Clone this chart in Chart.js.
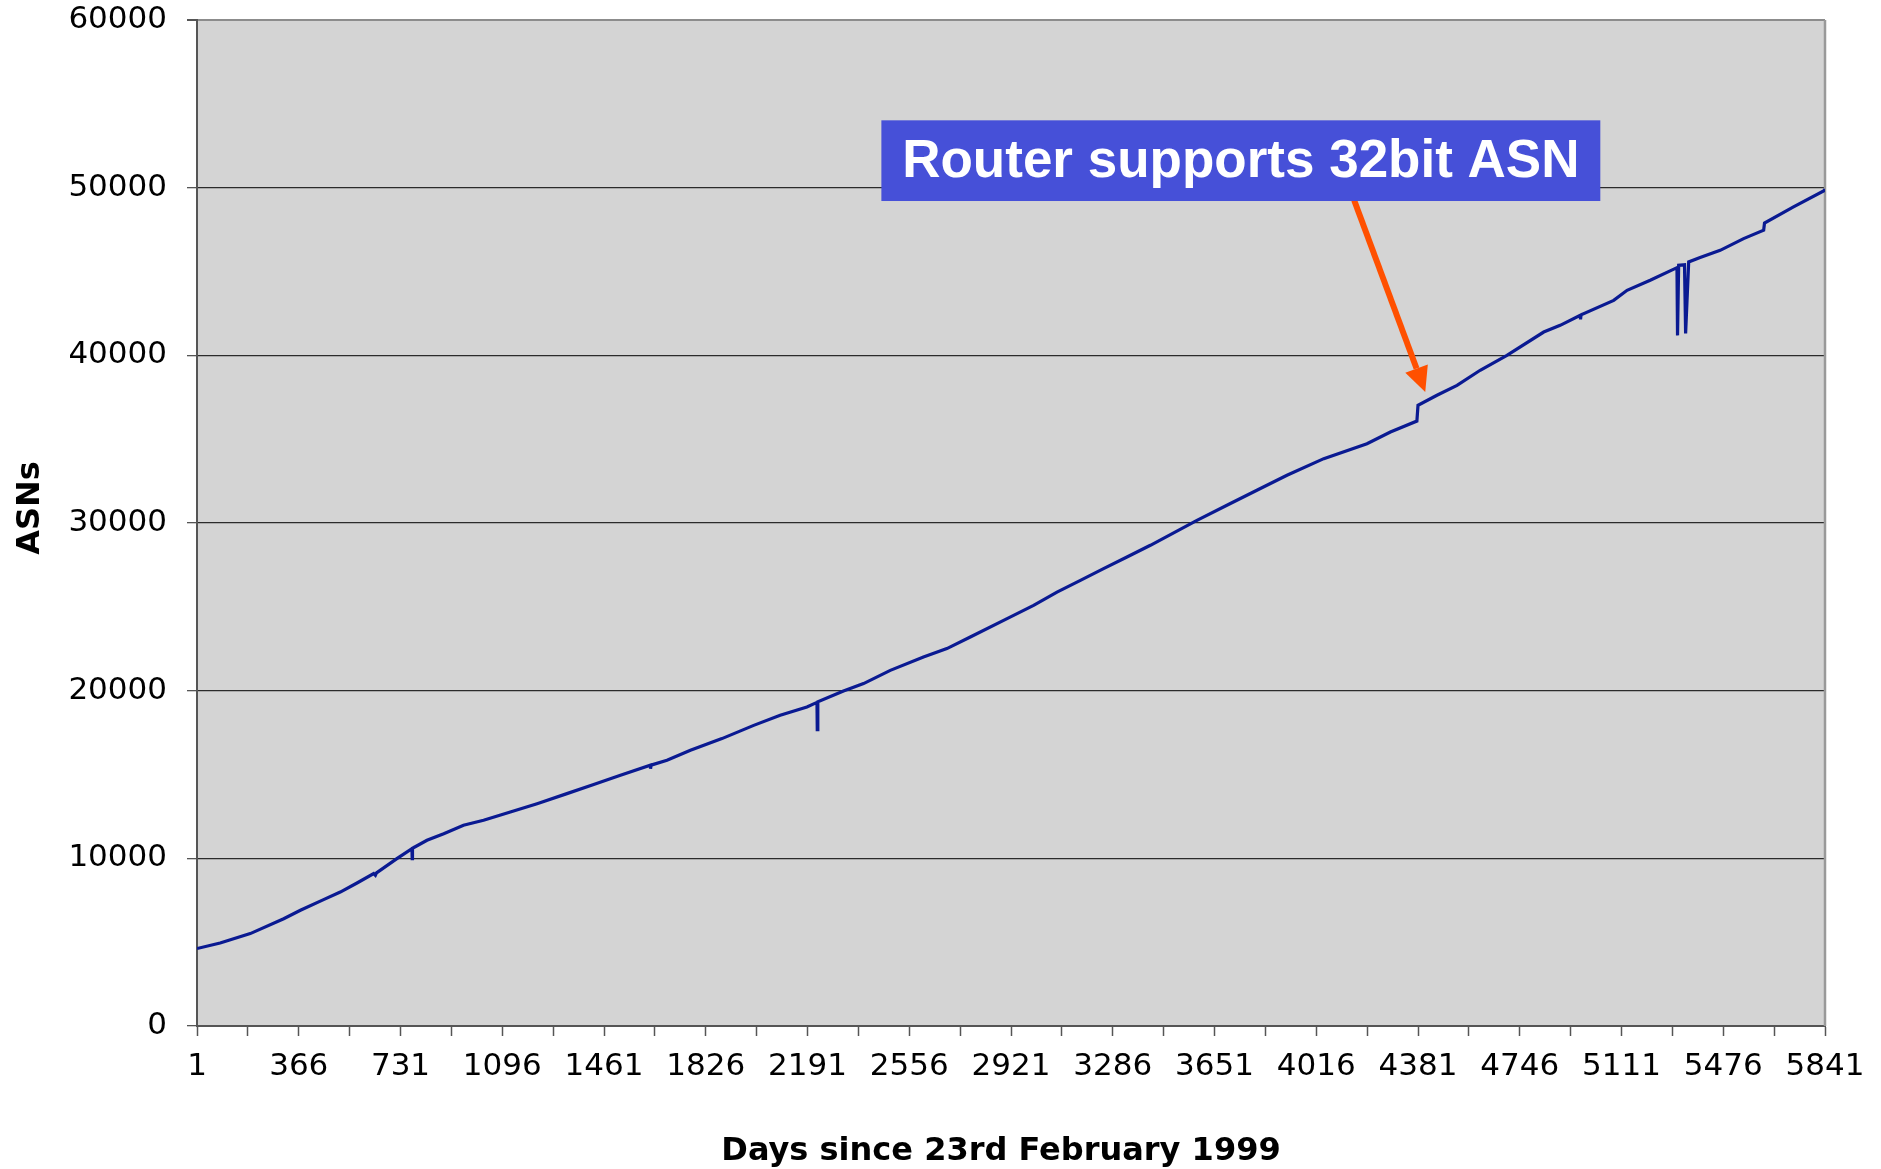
<!DOCTYPE html>
<html>
<head>
<meta charset="utf-8">
<title>ASNs</title>
<script src="https://cdn.jsdelivr.net/npm/chart.js@4/dist/chart.umd.min.js"></script>
<style>
  html, body { margin: 0; padding: 0; background: #ffffff; }
  #wrap { width: 1881px; height: 1169px; }
</style>
</head>
<body>
<div id="wrap"><canvas id="asn-chart"></canvas></div>
<script>
// ASN count (day number since 23rd Feb 1999)
const days = [
  1, 84, 192, 312, 372, 455, 515, 575, 635, 641, 645, 718, 772, 773, 774,
  826, 886, 957, 1029, 1125, 1221, 1328, 1424, 1520, 1627, 1628, 1630, 1687,
  1771, 1884, 1998, 2093, 2189, 2225, 2226, 2228, 2320, 2392, 2488, 2607,
  2691, 2775, 2907, 3002, 3086, 3170, 3253, 3337, 3421, 3588, 3708, 3803,
  3911, 4043, 4198, 4282, 4377, 4381, 4449, 4521, 4604, 4700, 4832, 4891,
  4963, 4964, 4966, 5083, 5131, 5214, 5310, 5312, 5316, 5337, 5341, 5352,
  5393, 5465, 5549, 5621, 5624, 5728, 5836, 5841
];
const asns = [
  4620, 4950, 5510, 6400, 6900, 7540, 7990, 8530, 9090, 8990, 9130, 9980, 10580, 9980, 10600,
  11075, 11470, 11970, 12270, 12760, 13260, 13860, 14410, 14950, 15550, 15350, 15560, 15850,
  16440, 17140, 17930, 18530, 19030, 19300, 17680, 19330, 19980, 20420, 21210, 22010,
  22510, 23200, 24300, 25090, 25880, 26580, 27280, 27970, 28670, 30160, 31160, 31950,
  32850, 33840, 34730, 35430, 36080, 37020, 37620, 38210, 39110, 40000, 41390, 41790,
  42390, 42150, 42420, 43280, 43880, 44480, 45230, 41190, 45370, 45400, 41300, 45570,
  45830, 46260, 46960, 47460, 47890, 48850, 49800, 49900
];

const xLabelDays = [1, 366, 731, 1096, 1461, 1826, 2191, 2556, 2921, 3286, 3651, 4016, 4381, 4746, 5111, 5476, 5841];
const yTicks = [0, 10000, 20000, 30000, 40000, 50000, 60000];

// callout, placed in data units
const note = {
  text: 'Router supports 32bit ASN',
  left: 2456, right: 5035, top: 54017, bottom: 49204,
  fromDay: 4152, fromAsn: 49245,
  toDay: 4407, toAsn: 37812,
};

const plotBg = {
  id: 'plotBg',
  beforeDraw(c) {
    const { ctx, chartArea: a } = c;
    ctx.save();
    ctx.fillStyle = '#d4d4d4';
    ctx.fillRect(a.left, a.top, a.right - a.left, a.bottom - a.top);
    ctx.restore();
  },
  beforeDatasetsDraw(c) {
    const { ctx, chartArea: a } = c;
    ctx.save();
    ctx.strokeStyle = '#999999';
    ctx.lineWidth = 2.5;
    ctx.beginPath();
    ctx.moveTo(a.right, a.top);
    ctx.lineTo(a.right, a.bottom);
    ctx.stroke();
    ctx.restore();
  },
};

const callout = {
  id: 'callout',
  afterDraw(c) {
    const { ctx, chartArea: a } = c;
    const x = c.scales.x, y = c.scales.y;
    ctx.save();

    // axis titles
    ctx.fillStyle = '#000000';
    ctx.font = 'bold 32px "DejaVu Sans"';
    ctx.textAlign = 'center';
    ctx.textBaseline = 'middle';
    ctx.fillText('Days since 23rd February 1999', (a.left + a.right) / 2 - 10, 1152);
    ctx.save();
    ctx.translate(31, (a.top + a.bottom) / 2 - 15);
    ctx.rotate(-Math.PI / 2);
    ctx.fillText('ASNs', 0, 0);
    ctx.restore();

    // arrow
    const x0 = x.getPixelForValue(note.fromDay), y0 = y.getPixelForValue(note.fromAsn);
    const x1 = x.getPixelForValue(note.toDay), y1 = y.getPixelForValue(note.toAsn);
    const ang = Math.atan2(y1 - y0, x1 - x0);
    const headLen = 25, headW = 12;
    const bx = x1 - headLen * Math.cos(ang), by = y1 - headLen * Math.sin(ang);
    ctx.strokeStyle = '#ff5000';
    ctx.fillStyle = '#ff5000';
    ctx.lineWidth = 6;
    ctx.beginPath();
    ctx.moveTo(x0, y0);
    ctx.lineTo(bx, by);
    ctx.stroke();
    ctx.beginPath();
    ctx.moveTo(x1, y1);
    ctx.lineTo(bx + headW * Math.sin(ang), by - headW * Math.cos(ang));
    ctx.lineTo(bx - headW * Math.sin(ang), by + headW * Math.cos(ang));
    ctx.closePath();
    ctx.fill();

    // box + label
    const l = x.getPixelForValue(note.left), r = x.getPixelForValue(note.right);
    const t = y.getPixelForValue(note.top), b = y.getPixelForValue(note.bottom);
    ctx.fillStyle = '#4650d8';
    ctx.fillRect(l, t, r - l, b - t);
    ctx.fillStyle = '#ffffff';
    ctx.font = 'bold 53px "Liberation Sans", Arial, sans-serif';
    ctx.textAlign = 'center';
    ctx.textBaseline = 'middle';
    ctx.fillText(note.text, (l + r) / 2, (t + b) / 2 + 2);
    ctx.restore();
  },
};

const tickFont = { family: '"DejaVu Sans", Verdana, sans-serif', size: 31 };

new Chart(document.getElementById('asn-chart'), {
  type: 'line',
  data: {
    datasets: [{
      label: 'ASNs',
      data: days.map((d, i) => ({ x: d, y: asns[i] })),
      borderColor: '#0a1a92',
      borderWidth: 3.2,
      pointRadius: 0,
      tension: 0,
      fill: false,
    }],
  },
  options: {
    responsive: true,
    maintainAspectRatio: false,
    animation: false,
    layout: { padding: { left: 0, top: 20, right: 56, bottom: 0 } },
    plugins: {
      legend: { display: false },
      tooltip: { enabled: false },
    },
    scales: {
      x: {
        type: 'linear',
        min: 1,
        max: 5841,
        afterBuildTicks(scale) {
          const ticks = [];
          xLabelDays.forEach((d, i) => {
            ticks.push({ value: d });
            if (i < xLabelDays.length - 1) ticks.push({ value: (d + xLabelDays[i + 1]) / 2 });
          });
          scale.ticks = ticks;
        },
        afterFit(scale) { scale.height = 143; },
        ticks: {
          autoSkip: false,
          maxRotation: 0,
          color: '#000000',
          font: tickFont,
          padding: 12,
          callback: (v) => (xLabelDays.includes(v) ? String(v) : ''),
        },
        grid: {
          drawOnChartArea: false,
          tickLength: 10,
          tickColor: '#555555',
          tickWidth: 1.5,
        },
        border: { color: '#555555', width: 2 },
      },
      y: {
        min: 0,
        max: 60000,
        afterBuildTicks(scale) {
          scale.ticks = yTicks.map((v) => ({ value: v }));
        },
        afterFit(scale) {
          scale.width = 197;
          // let the top label overhang the plot instead of pushing it down
          scale.paddingTop = 0;
          scale.paddingBottom = 0;
        },
        ticks: {
          color: '#000000',
          font: tickFont,
          padding: 20,
          callback: (v) => String(v),
        },
        grid: {
          color: (ctx) => (ctx.tick && ctx.tick.value === 60000 ? '#8c8c8c' : '#2b2b2b'),
          lineWidth: (ctx) => (ctx.tick && ctx.tick.value === 60000 ? 2 : 1.3),
          tickLength: 10,
          tickColor: '#555555',
        },
        border: { color: '#555555', width: 2 },
      },
    },
  },
  plugins: [plotBg, callout],
});
</script>
</body>
</html>
